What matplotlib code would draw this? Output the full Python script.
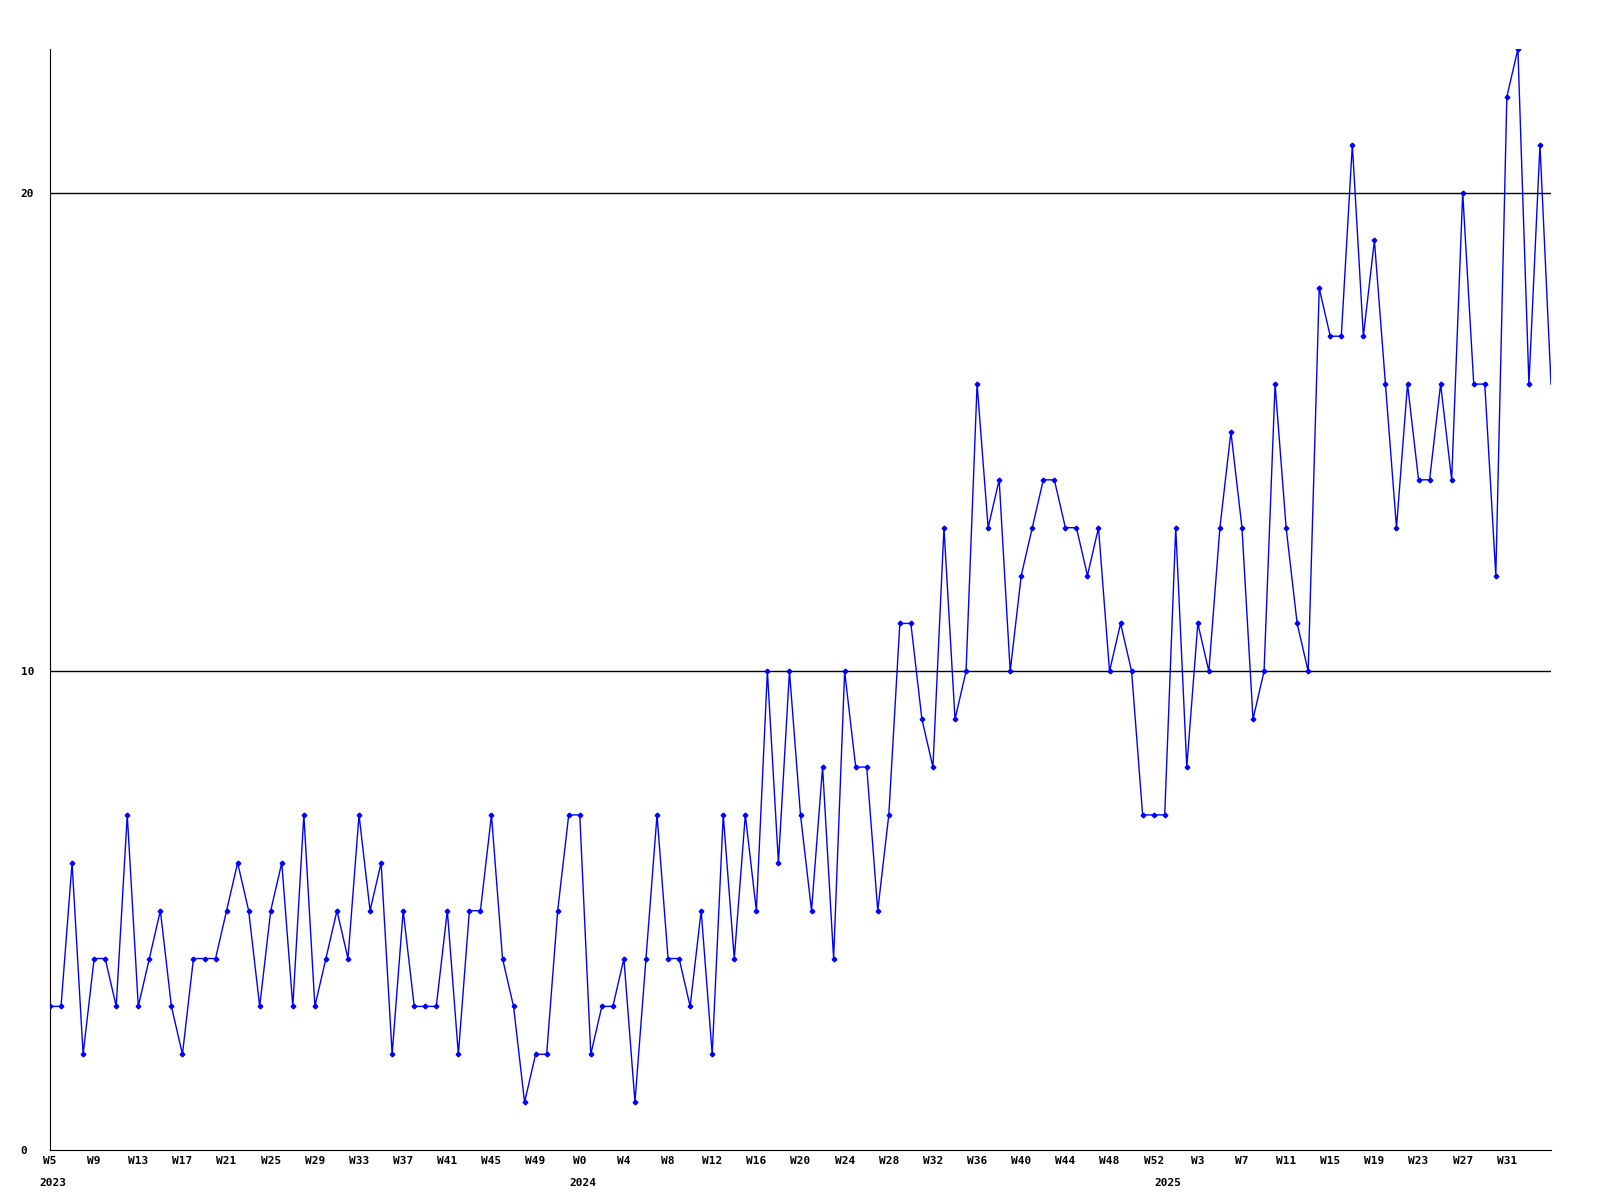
import matplotlib
matplotlib.use("Agg")
import matplotlib.pyplot as plt

# weekly counts, 2023 W5 .. 2025 W35
values = [3, 3, 6, 2, 4, 4, 3, 7, 3, 4, 5, 3, 2, 4, 4, 4, 5, 6, 5, 3, 5, 6, 3, 7,
          3, 4, 5, 4, 7, 5, 6, 2, 5, 3, 3, 3, 5, 2, 5, 5, 7, 4, 3, 1, 2, 2, 5,
          7, 7, 2, 3, 3, 4, 1, 4, 7, 4, 4, 3, 5, 2, 7, 4, 7, 5, 10, 6, 10, 7, 5,
          8, 4, 10, 8, 8, 5, 7, 11, 11, 9, 8, 13, 9, 10, 16, 13, 14, 10, 12, 13, 14, 14,
          13, 13, 12, 13, 10, 11, 10, 7, 7, 7, 13, 8, 11, 10, 13, 15, 13, 9, 10, 16, 13, 11, 10,
          18, 17, 17, 21, 17, 19, 16, 13, 16, 14, 14, 16, 14, 20, 16, 16, 12, 22, 23, 16, 21, 16]

# (year, first week, last week)
years = [(2023, 5, 52), (2024, 0, 52), (2025, 0, 35)]

week_labels = []
year_starts = []
for yr, w0, w1 in years:
    year_starts.append((len(week_labels), str(yr)))
    for w in range(w0, w1 + 1):
        week_labels.append("W%d" % w)

x = list(range(len(values)))

font = {"family": "DejaVu Sans Mono", "weight": "bold", "size": 8}

fig = plt.figure(figsize=(16, 12), dpi=100)
ax = fig.add_axes([50 / 1600, 50 / 1200, 1501 / 1600, 1101 / 1200])

for gy in [10, 20]:
    ax.axhline(gy, color="black", linewidth=1, zorder=1)

# last point has no marker in the original
ax.plot(x, values, color="#0000ff", linewidth=1, marker="P", markersize=3,
        markevery=list(range(len(values) - 1)), zorder=3)

ax.set_xlim(0, len(values) - 1)
ax.set_ylim(0, 23)

ax.spines["top"].set_visible(False)
ax.spines["right"].set_visible(False)
ax.spines["left"].set_color("black")
ax.spines["bottom"].set_color("black")

ticks = list(range(0, len(values) - 1, 4))
ax.set_xticks(ticks)
ax.set_xticklabels([week_labels[i] for i in ticks], **font)
ax.tick_params(axis="x", length=0, pad=4)

ax.set_yticks([0, 10, 20])
ax.set_yticklabels(["0", "10", "20"], **font)
ax.tick_params(axis="y", length=0, pad=21)
for lab in ax.get_yticklabels():
    lab.set_horizontalalignment("left")

for idx, name in year_starts:
    ax.annotate(name, xy=(idx, 0), xycoords=("data", "axes fraction"),
                xytext=(2, -20), textcoords="offset points",
                ha="center", va="top", **font)

fig.savefig("out.png", dpi=100, facecolor="white")
